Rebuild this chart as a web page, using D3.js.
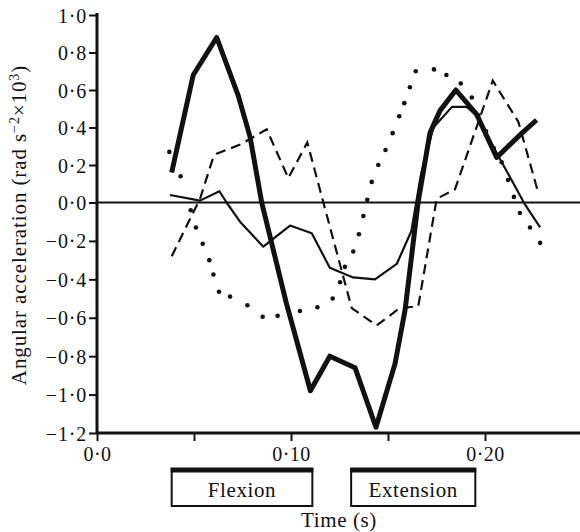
<!DOCTYPE html>
<html>
<head>
<meta charset="utf-8">
<script src="https://cdn.jsdelivr.net/npm/d3@7"></script>
<style>
    body { margin: 0; background: #fff; }
    svg { display: block; }
    text { font-family: 'Liberation Serif', 'Times New Roman', serif; fill: #111; }
</style>
</head>
<body>
<div id="chart"></div>
<script>
// values: [time (s), angular acceleration (rad s^-2 x 10^3)]
let thick_series = [
    [0.0385, 0.16], [0.0496, 0.68], [0.0617, 0.88], [0.0728, 0.57], [0.0789, 0.35],
    [0.0849, 0.0], [0.0975, -0.52], [0.110, -0.98], [0.120, -0.80], [0.133, -0.86],
    [0.1438, -1.17], [0.1536, -0.84], [0.1588, -0.56], [0.1655, 0.0], [0.1716, 0.37],
    [0.1768, 0.49], [0.185, 0.60], [0.1957, 0.47], [0.2060, 0.24], [0.2090, 0.27],
    [0.219, 0.37], [0.2266, 0.44]
];
let thin_series = [
    [0.0376, 0.04], [0.0531, 0.01], [0.0631, 0.06], [0.0668, 0.0], [0.0737, -0.10],
    [0.0857, -0.23], [0.0995, -0.12], [0.1107, -0.16], [0.120, -0.34], [0.132, -0.39],
    [0.1433, -0.40], [0.1545, -0.32], [0.162, -0.15], [0.167, 0.15], [0.1734, 0.40],
    [0.183, 0.51], [0.1906, 0.51], [0.1966, 0.455], [0.2052, 0.28], [0.2206, -0.01],
    [0.2284, -0.13]
];
let dashed_series = [
    [0.0385, -0.28], [0.0531, 0.02], [0.0599, 0.24], [0.0617, 0.26], [0.0740, 0.31],
    [0.0875, 0.39], [0.0986, 0.13], [0.1084, 0.32], [0.1313, -0.55], [0.1442, -0.64],
    [0.156, -0.55], [0.1656, -0.54], [0.1751, 0.02], [0.1845, 0.07], [0.2040, 0.65],
    [0.2172, 0.43], [0.2275, 0.05]
];
let dotted_series = [
    [0.0373, 0.27], [0.0431, 0.14], [0.0483, -0.04], [0.0510, -0.13], [0.0545, -0.215],
    [0.0579, -0.30], [0.0600, -0.375], [0.0629, -0.465], [0.0686, -0.49], [0.0775, -0.535],
    [0.0854, -0.595], [0.0931, -0.59], [0.1046, -0.565], [0.1136, -0.545], [0.1215, -0.50],
    [0.1253, -0.415], [0.1278, -0.335], [0.1321, -0.255], [0.1350, -0.165], [0.1373, -0.07],
    [0.1393, 0.015], [0.1416, 0.11], [0.1450, 0.20], [0.1487, 0.28], [0.1524, 0.37],
    [0.1558, 0.46], [0.1584, 0.53], [0.1613, 0.615], [0.1643, 0.70], [0.1737, 0.71],
    [0.1801, 0.68], [0.1875, 0.635], [0.1932, 0.56], [0.1965, 0.465], [0.2005, 0.38],
    [0.2045, 0.29], [0.2086, 0.215], [0.2119, 0.12], [0.2149, 0.03], [0.2180, -0.055],
    [0.2232, -0.13], [0.2284, -0.21]
];

let y_ticks = [1.0, 0.8, 0.6, 0.4, 0.2, 0.0, -0.2, -0.4, -0.6, -0.8, -1.0, -1.2];
let x_ticks = [0, 0.05, 0.10, 0.15, 0.20];
let x_tick_labels = ['0\u00b70', '', '0\u00b710', '', '0\u00b720'];

let phases = [
    { label: 'Flexion', start: 0.0385, end: 0.111 },
    { label: 'Extension', start: 0.131, end: 0.195 }
];

let width = 580;
let height = 532;

let svg = d3.select('#chart')
    .append('svg')
    .attr('width', width)
    .attr('height', height);

// Scanned axis is slightly uneven above/below zero
let xScale = d3.scaleLinear().domain([0, 0.25]).range([97, 582]);
let yScale = d3.scaleLinear().domain([-1.2, 0, 1.0]).range([433, 202.5, 15]);

function fmt(d) {
    let s = Math.abs(d).toFixed(1).replace('.', '\u00b7');
    return (d < 0 ? '\u2212' : '') + s;
}

// Y axis
let yAxis = svg.append('g')
    .attr('transform', 'translate(' + xScale(0) + ',0)')
    .call(d3.axisLeft(yScale).tickValues(y_ticks).tickFormat(fmt).tickSize(8).tickSizeOuter(0));
yAxis.select('.domain').attr('stroke', '#111').attr('stroke-width', 3)
    .attr('d', 'M0,' + (yScale(1.0) - 2) + 'V' + yScale(-1.2));
yAxis.selectAll('.tick line').attr('stroke', '#111').attr('stroke-width', 2);
yAxis.selectAll('.tick text')
    .attr('x', -10)
    .attr('dy', '0.35em')
    .style('font-size', '20px')
    .style('letter-spacing', '0.8px')
    .style('font-family', "'Liberation Serif', serif");

// X axis
let xAxis = svg.append('g')
    .attr('transform', 'translate(0,' + yScale(-1.2) + ')')
    .call(d3.axisBottom(xScale).tickValues(x_ticks)
        .tickFormat(function(d, i) { return x_tick_labels[i]; })
        .tickSize(8).tickSizeOuter(0));
xAxis.select('.domain').attr('stroke', '#111').attr('stroke-width', 3)
    .attr('d', 'M' + xScale(0) + ',0H' + width);
xAxis.selectAll('.tick line').attr('stroke', '#111').attr('stroke-width', 2);
xAxis.selectAll('.tick text')
    .attr('y', 14)
    .style('font-size', '20px')
    .style('letter-spacing', '0.5px')
    .style('font-family', "'Liberation Serif', serif");

// Zero line
svg.append('line')
    .attr('x1', xScale(0))
    .attr('x2', width)
    .attr('y1', yScale(0))
    .attr('y2', yScale(0))
    .attr('stroke', '#111')
    .attr('stroke-width', 2);

let line = d3.line()
    .x(function(d) { return xScale(d[0]); })
    .y(function(d) { return yScale(d[1]); });

// Dotted trace
svg.selectAll('.dot')
    .data(dotted_series)
    .enter().append('circle')
    .attr('class', 'dot')
    .attr('cx', function(d) { return xScale(d[0]); })
    .attr('cy', function(d) { return yScale(d[1]); })
    .attr('r', 2.3)
    .attr('fill', '#111');

svg.append('path')
    .datum(dashed_series)
    .attr('d', line)
    .attr('fill', 'none')
    .attr('stroke', '#111')
    .attr('stroke-width', 2.2)
    .attr('stroke-dasharray', '10,6');

svg.append('path')
    .datum(thin_series)
    .attr('d', line)
    .attr('fill', 'none')
    .attr('stroke', '#111')
    .attr('stroke-width', 2.2)
    .attr('stroke-linejoin', 'round');

svg.append('path')
    .datum(thick_series)
    .attr('d', line)
    .attr('fill', 'none')
    .attr('stroke', '#111')
    .attr('stroke-width', 5)
    .attr('stroke-linejoin', 'round');

// Flexion / extension boxes
let box = svg.selectAll('.phase')
    .data(phases)
    .enter().append('g')
    .attr('class', 'phase');

box.append('rect')
    .attr('x', function(d) { return xScale(d.start); })
    .attr('y', 469)
    .attr('width', function(d) { return xScale(d.end) - xScale(d.start); })
    .attr('height', 37)
    .attr('fill', '#fff')
    .attr('stroke', '#111')
    .attr('stroke-width', 2);

box.append('line')
    .attr('x1', function(d) { return xScale(d.start) - 1; })
    .attr('x2', function(d) { return xScale(d.end) + 1; })
    .attr('y1', 470)
    .attr('y2', 470)
    .attr('stroke', '#111')
    .attr('stroke-width', 5);

box.append('text')
    .attr('x', function(d) { return (xScale(d.start) + xScale(d.end)) / 2; })
    .attr('y', 497)
    .attr('text-anchor', 'middle')
    .style('font-size', '21px')
    .style('letter-spacing', '0.6px')
    .text(function(d) { return d.label; });

// Axis titles
svg.append('text')
    .attr('x', 339)
    .attr('y', 527)
    .attr('text-anchor', 'middle')
    .style('font-size', '21px')
    .style('letter-spacing', '0.6px')
    .text('Time (s)');

let ytitle = svg.append('text')
    .attr('transform', 'translate(26,225) rotate(-90)')
    .attr('text-anchor', 'middle')
    .style('font-size', '21px')
    .style('letter-spacing', '0.9px');
ytitle.append('tspan').text('Angular acceleration (rad s');
ytitle.append('tspan').attr('baseline-shift', 'super').style('font-size', '14px').text('\u22122');
ytitle.append('tspan').text('\u00d710');
ytitle.append('tspan').attr('baseline-shift', 'super').style('font-size', '14px').text('3');
ytitle.append('tspan').text(')');
</script>
</body>
</html>
